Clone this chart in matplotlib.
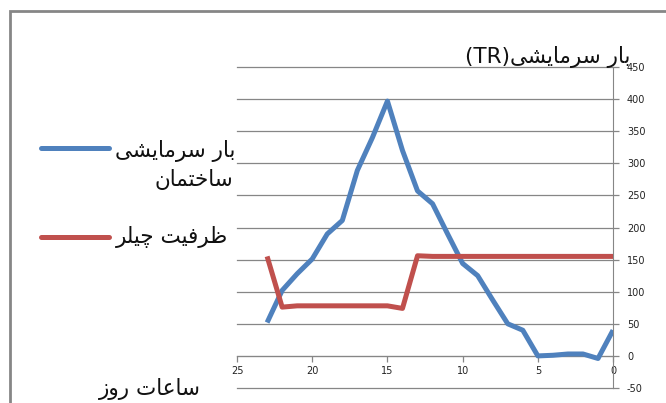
import numpy as np
import matplotlib.pyplot as plt
from matplotlib.lines import Line2D
from matplotlib.patches import Rectangle

def rgb(r, g, b):
    return [float(r)/255, float(g)/255, float(b)/255]

# hourly values
hours = [23, 22, 21, 20, 19, 18, 17, 16, 15, 14, 13, 12,
         11, 10, 9, 8, 7, 6, 5, 4, 3, 2, 1, 0]
cooling_load = [52, 102, 128, 151, 190, 211, 289, 340, 397, 320, 257, 237,
                190, 144, 125, 87, 50, 40, 0, 1, 3, 3, -4, 40]
chiller_cap = [155, 76, 78, 78, 78, 78, 78, 78, 78, 74, 156, 155,
               155, 155, 155, 155, 155, 155, 155, 155, 155, 155, 155, 155]

xticks = [25, 20, 15, 10, 5, 0]
yticks = [-50, 0, 50, 100, 150, 200, 250, 300, 350, 400, 450]

# Persian labels, pre-shaped (presentation forms) in visual order
lbl_load_1 = "\uFBFD\uFEB8\uFBFE\uFE8E\uFEE3\uFEAE\uFEB3 \uFEAD\uFE8E\uFE91"   # بار سرمایشی
lbl_load_2 = "\uFEE5\uFE8E\uFEE4\uFE98\uFEA7\uFE8E\uFEB3"                     # ساختمان
lbl_chiller = "\uFEAE\uFEE0\uFBFF\uFB7C \uFE96\uFBFF\uFED3\uFEAE\uFEC7"       # ظرفیت چیلر
lbl_xaxis = "\uFEAF\uFEED\uFEAD \uFE95\uFE8E\uFECB\uFE8E\uFEB3"               # ساعات روز
lbl_yaxis = "(TR)" + lbl_load_1                                              # بار سرمایشی(TR)

blue = rgb(79, 129, 189)
red = rgb(192, 80, 77)
grey = rgb(134, 134, 134)
txt = '#111111'
fs = 15.5

plt.rcParams['font.family'] = ['DejaVu Sans']
plt.rcParams['axes.unicode_minus'] = False

fig = plt.figure(figsize=(6.66, 4.03), dpi=100)
ax = fig.add_axes([0.3559, 0.0372, 0.5646, 0.7965])

ax.plot(hours, cooling_load, color=blue, lw=3.6, solid_joinstyle='round', solid_capstyle='butt', zorder=3)
ax.plot(hours, chiller_cap, color=red, lw=3.6, solid_joinstyle='round', solid_capstyle='butt', zorder=3)

ax.set_xlim(25, 0)
ax.set_ylim(-50, 450)
ax.set_xticks(xticks)
ax.set_yticks(yticks)
ax.yaxis.grid(True, color=grey, lw=0.9)
for gl in ax.get_ygridlines():
    gl.set_clip_on(False)
ax.set_axisbelow(True)

ax.spines['top'].set_visible(False)
ax.spines['left'].set_visible(False)
ax.spines['right'].set_color(grey)
ax.spines['bottom'].set_color(grey)
ax.spines['bottom'].set_position(('data', 0))
ax.yaxis.tick_right()
ax.tick_params(axis='y', colors=grey, labelcolor='#222222', labelsize=7, length=4, width=0.9, pad=6)
ax.tick_params(axis='x', colors=grey, labelcolor='#222222', labelsize=7, length=4, width=0.9, pad=3)

# titles
fig.text(630/666, 1 - 63/403, lbl_yaxis, ha='right', va='baseline', fontsize=fs, color=txt)
fig.text(201/666, 1 - 395/403, lbl_xaxis, ha='right', va='baseline', fontsize=fs, color=txt)

# legend drawn by hand
for y, col in [(148, blue), (237, red)]:
    fig.add_artist(Line2D([41/666, 109/666], [1 - y/403, 1 - y/403], color=col, lw=3.6,
                          solid_capstyle='round', transform=fig.transFigure))
fig.text(235/666, 1 - 157/403, lbl_load_1, ha='right', va='baseline', fontsize=fs, color=txt)
fig.text(233/666, 1 - 186/403, lbl_load_2, ha='right', va='baseline', fontsize=fs, color=txt)
fig.text(228/666, 1 - 243/403, lbl_chiller, ha='right', va='baseline', fontsize=fs, color=txt)

# chart frame (only top and left edges are inside the crop)
fig.add_artist(Rectangle((10/666, -0.1), 1.2, 1 - 11/403 + 0.1, transform=fig.transFigure,
                         fill=False, edgecolor=grey, lw=2))

fig.savefig('out.png', dpi=100)
